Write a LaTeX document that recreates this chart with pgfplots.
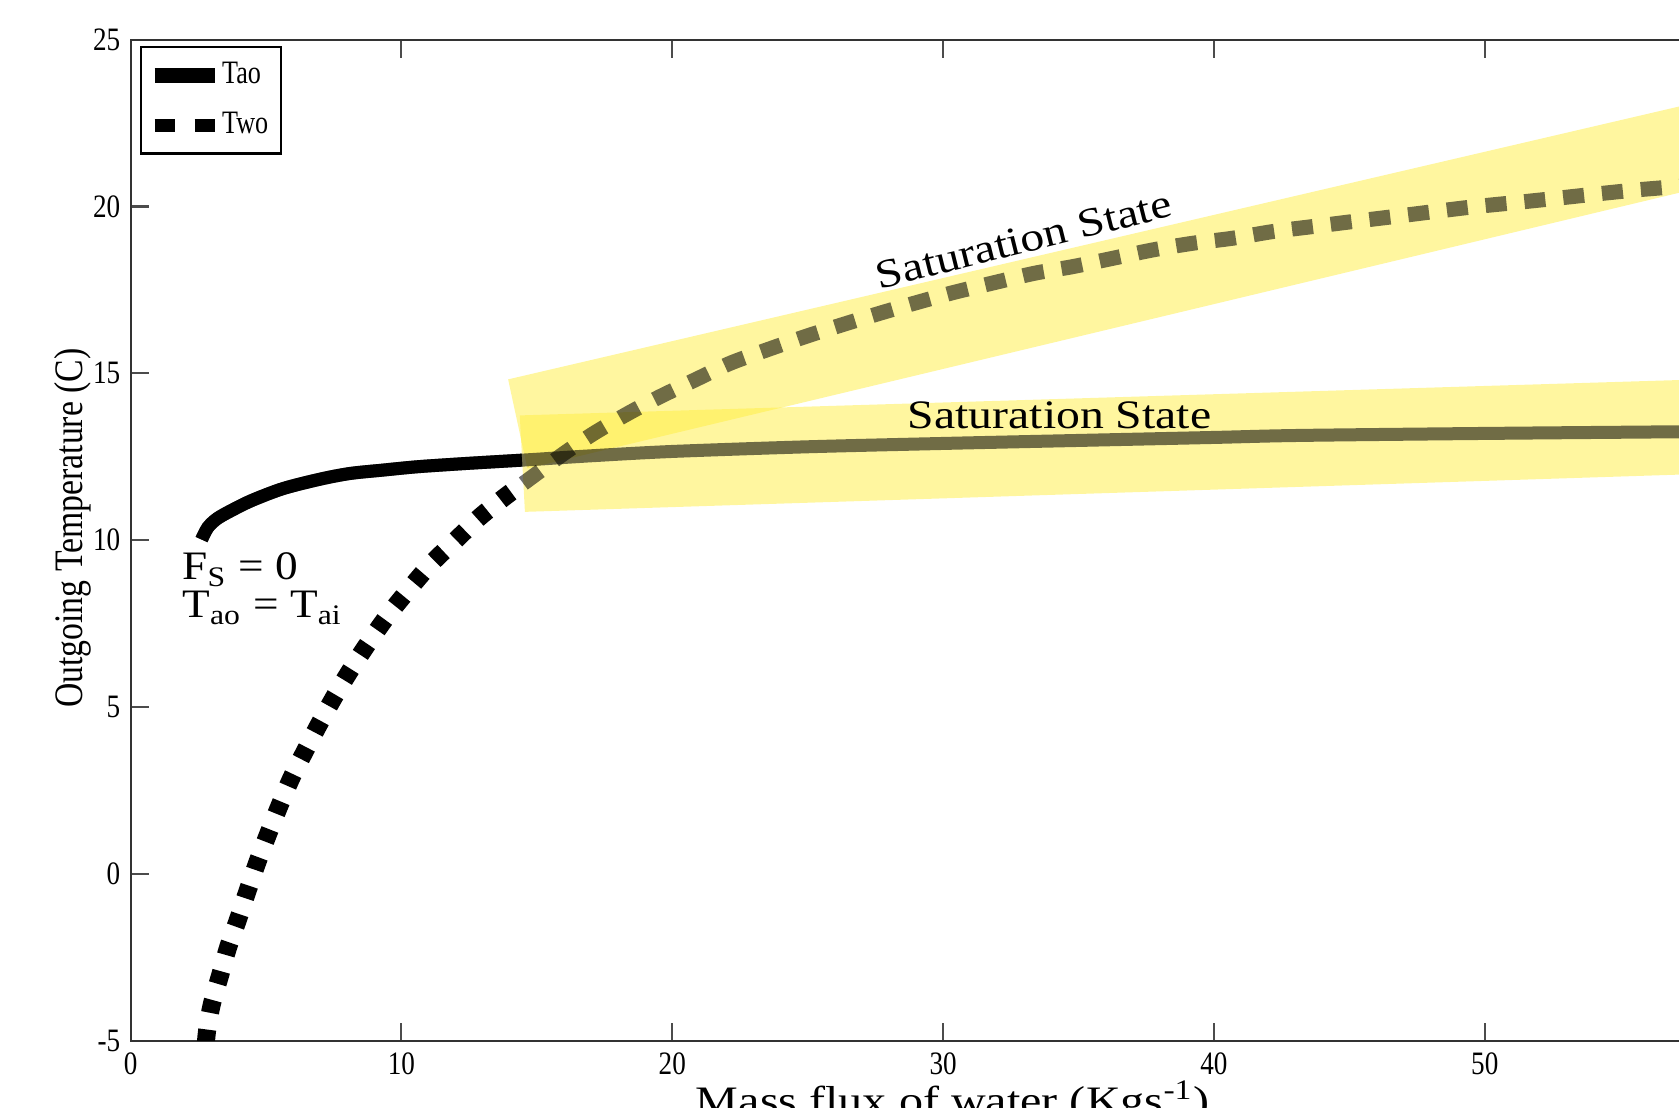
\documentclass[border=0pt]{standalone}
\usepackage{fontspec}
\setmainfont{Liberation Serif}
\usepackage{graphicx}
\usepackage{pgfplots}
\pgfplotsset{compat=1.18}
\definecolor{bandyel}{RGB}{255,239,65}
\begin{document}
\begin{tikzpicture}
\begin{axis}[
  at={(1.306cm,-10.408cm)}, anchor=south west,
  scale only axis, width=16.25cm, height=10.012cm,
  xmin=0, xmax=60, ymin=-5, ymax=25,
  xtick={0,10,20,30,40,50}, ytick={-5,0,5,10,15,20,25},
  tick align=inside, major tick length=0.18cm,
  /pgf/number format/assume math mode=true,
  xticklabel style={font=\fontsize{9.3}{10}\selectfont, xscale=0.83, inner sep=0.5pt, yshift=-0.095cm},
  yticklabel style={font=\fontsize{9.3}{10}\selectfont, xscale=0.83},
  axis line style={black!80, line width=0.6pt},
  every tick/.style={black!70, line width=0.6pt},
  xlabel={\scalebox{1.19}[1]{Mass flux of water (Kgs\textsuperscript{-1})}},
  ylabel={\scalebox{0.835}[1]{Outgoing Temperature (C)}},
  xlabel style={at={(axis description cs:0.506,-0.074)}, anchor=base, inner sep=0pt, font=\fontsize{11.5}{13}\selectfont},
  ylabel style={at={(axis description cs:-0.0356,0.512)}, anchor=center, font=\fontsize{11.5}{13}\selectfont},
  legend style={at={(0.0058,0.9936)}, anchor=north west, draw=black, line width=0.6pt,
    font=\fontsize{9.3}{10}\selectfont, inner xsep=0.06cm, inner ysep=0.08cm, row sep=0.09cm,
    cells={anchor=west}},
  legend cell align=left,
]
\addlegendimage{black, line width=0.15cm, legend image code/.code={\draw[black, line width=0.15cm] (0cm,0cm) -- (0.6cm,0cm);}}
\addlegendentry{\hspace{-0.07cm}\scalebox{0.8}[1]{Tao}}
\addlegendimage{black, line width=0.13cm, legend image code/.code={\draw[black, line width=0.13cm, dash pattern=on 0.2cm off 0.2cm] (0cm,0cm) -- (0.6cm,0cm);}}
\addlegendentry{\hspace{-0.07cm}\scalebox{0.8}[1]{Two}}

% Tao (black)
\addplot[forget plot, black, line width=0.13cm, smooth] coordinates {
(2.62,10.02)(2.85,10.38)(3.2,10.65)(3.79,10.92)(4.5,11.2)(5.64,11.55)(7.0,11.83)(8.1,12.0)(9.3,12.1)(10.56,12.2)(12.0,12.28)(13.0,12.33)(14.87,12.42)(17.0,12.53)(20.0,12.66)(25.0,12.8)(30.0,12.9)(35.0,12.99)(40.0,13.08)(43.17,13.14)(50.0,13.2)(57.16,13.25)(60,13.27)};
% Two lower part (black)
\addplot[forget plot, black, line width=0.18cm, dash pattern=on 0.13cm off 0.17cm, smooth] coordinates {
(2.78,-5.05)(2.84,-4.6)(3.0,-3.9)(3.3,-3.05)(3.6,-2.2)(3.95,-1.4)(4.3,-0.55)(4.68,0.35)(5.08,1.2)(5.5,2.05)(5.95,2.9)(6.45,3.7)(7.0,4.55)(7.55,5.35)(8.15,6.15)(8.8,6.95)(9.5,7.75)(10.3,8.55)(11.1,9.3)(12.0,10.0)(12.9,10.7)(13.9,11.35)(14.5,11.7)};

% white under bands
\addplot[forget plot, fill=white, draw=none] coordinates {(13.94,14.82)(60,23.53)(60,20.96)(14.65,12.15)} -- cycle;
\addplot[forget plot, fill=white, draw=none] coordinates {(14.37,13.74)(60,14.87)(60,12.04)(14.56,10.85)} -- cycle;
% yellow bands
\addplot[forget plot, fill=bandyel, fill opacity=0.5, draw=none] coordinates {(13.94,14.82)(60,23.53)(60,20.96)(14.65,12.15)} -- cycle;
\addplot[forget plot, fill=bandyel, fill opacity=0.5, draw=none] coordinates {(14.37,13.74)(60,14.87)(60,12.04)(14.56,10.85)} -- cycle;

% Tao again, semi-transparent
\addplot[forget plot, black, draw opacity=0.56, line width=0.13cm, smooth] coordinates {
(2.62,10.02)(2.85,10.38)(3.2,10.65)(3.79,10.92)(4.5,11.2)(5.64,11.55)(7.0,11.83)(8.1,12.0)(9.3,12.1)(10.56,12.2)(12.0,12.28)(13.0,12.33)(14.87,12.42)(17.0,12.53)(20.0,12.66)(25.0,12.8)(30.0,12.9)(35.0,12.99)(40.0,13.08)(43.17,13.14)(50.0,13.2)(57.16,13.25)(60,13.27)};
% Two upper part, semi-transparent
\addplot[forget plot, black, draw opacity=0.56, line width=0.15cm, dash pattern=on 0.21cm off 0.18cm, smooth] coordinates {
(14.5,11.7)(15.0,12.0)(16.0,12.6)(17.1,13.2)(18.37,13.8)(19.54,14.3)(20.83,14.8)(22.13,15.3)(23.48,15.7)(24.83,16.08)(26.25,16.45)(27.66,16.8)(29.02,17.12)(30.37,17.42)(31.9,17.72)(33.38,18.0)(34.8,18.2)(36.28,18.45)(37.75,18.7)(39.23,18.9)(40.7,19.05)(42.18,19.25)(43.66,19.4)(45.14,19.55)(46.67,19.7)(48.15,19.85)(49.69,20.0)(51.17,20.12)(52.7,20.25)(54.18,20.38)(55.65,20.5)(57.07,20.6)(60,20.85)};

\node[anchor=base, rotate=14, inner sep=0pt, font=\fontsize{11.5}{13}\selectfont] at (axis cs:33.1,18.62) {\scalebox{1.18}[1]{Saturation State}};
\node[anchor=base, inner sep=0pt, font=\fontsize{11.5}{13}\selectfont] at (axis cs:34.3,13.36) {\scalebox{1.18}[1]{Saturation State}};
\node[anchor=base west, inner sep=0pt, font=\fontsize{11.5}{13}\selectfont] at (axis cs:1.89,8.81) {\scalebox{1.12}[1]{F\textsubscript{S} = 0}};
\node[anchor=base west, inner sep=0pt, font=\fontsize{11.5}{13}\selectfont] at (axis cs:1.89,7.67) {\scalebox{1.12}[1]{T\textsubscript{ao} = T\textsubscript{ai}}};
\end{axis}
\pgfresetboundingbox
\path[use as bounding box] (0,-11.07) rectangle (16.79,0);
\end{tikzpicture}
\end{document}
